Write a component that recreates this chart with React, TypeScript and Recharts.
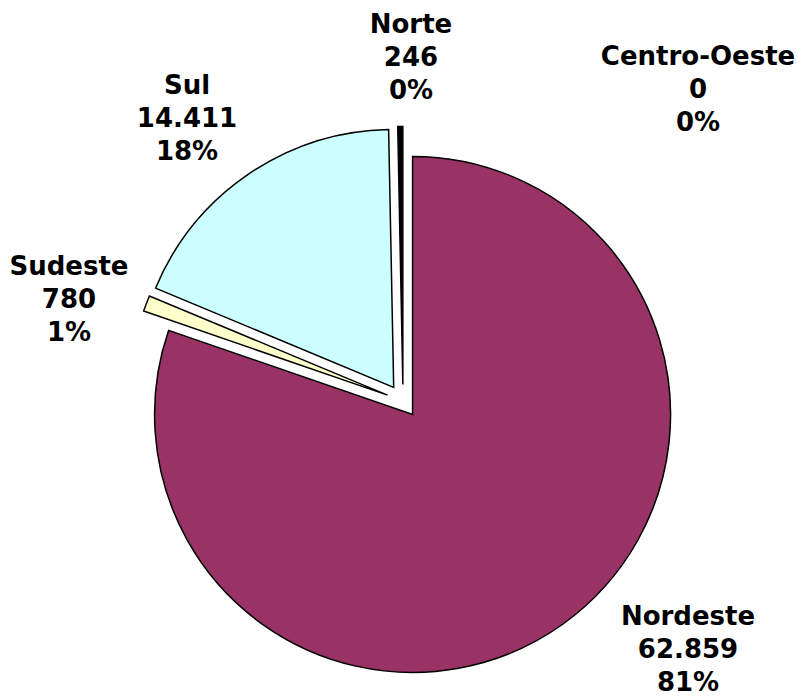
import React from "react";
import { PieChart, Pie, Cell } from "recharts";

const regions = ["Nordeste", "Sudeste", "Sul", "Norte", "Centro-Oeste"];
const values = [62859, 780, 14411, 246, 0];
const valueLabels = ["62.859", "780", "14.411", "246", "0"];
const percentLabels = ["81%", "1%", "18%", "0%", "0%"];
const colors = ["#993366", "#FFFFCC", "#CCFFFF", "#000000", "#660066"];

const data = regions.map((name, i) => ({ name, value: values[i] }));

// layout
const W = 798;
const H = 698;
const CX = 403;
const CY = 401;
const R = 258;
const EXPLODE = 16.5;
const START = 90;
const END = -270;
const FONT_SIZE = 26;
const LINE_H = 33;
// label anchor offsets (first line baseline) relative to pie centre
const labelOffsets: [number, number][] = [
  [285, 224],
  [-334, -126],
  [-216, -307],
  [8, -368],
  [295, -336],
];

const total = values.reduce((a, b) => a + b, 0);
const midAngles = values.map((v, i) => {
  const before = values.slice(0, i).reduce((a, b) => a + b, 0);
  const f = (before + v / 2) / total;
  return START + (END - START) * f;
});

const renderLabel = (props: any) => {
  const i = props.index;
  const x = CX + labelOffsets[i][0];
  const y = CY + labelOffsets[i][1];
  return (
    <text
      key={`lbl-${i}`}
      x={x}
      y={y}
      textAnchor="middle"
      fontFamily="'DejaVu Sans', Verdana, sans-serif"
      fontWeight="bold"
      fontSize={FONT_SIZE}
      fill="#000"
    >
      <tspan x={x} dy={0}>{regions[i]}</tspan>
      <tspan x={x} dy={LINE_H}>{valueLabels[i]}</tspan>
      <tspan x={x} dy={LINE_H}>{percentLabels[i]}</tspan>
    </text>
  );
};

export default function App() {
  return (
    <div style={{ position: "absolute", left: 0, top: 0, width: W, height: H, background: "#fff" }}>
      <PieChart width={W} height={H} margin={{ top: 0, right: 0, bottom: 0, left: 0 }}>
        {values.map((v, si) => {
          if (v === 0) return null;
          const a = (midAngles[si] * Math.PI) / 180;
          const cx = CX + EXPLODE * Math.cos(a);
          const cy = CY - EXPLODE * Math.sin(a);
          return (
            <Pie
              key={`pie-${si}`}
              data={data}
              dataKey="value"
              nameKey="name"
              cx={cx}
              cy={cy}
              outerRadius={R}
              innerRadius={0}
              startAngle={START}
              endAngle={END}
              isAnimationActive={false}
              label={false}
              labelLine={false}
            >
              {data.map((d, ci) => (
                <Cell
                  key={`c-${ci}`}
                  fill={ci === si ? colors[ci] : "none"}
                  stroke={ci === si ? "#000" : "none"}
                  strokeWidth={1.5}
                />
              ))}
            </Pie>
          );
        })}
        <Pie
          data={data}
          dataKey="value"
          nameKey="name"
          cx={CX}
          cy={CY}
          outerRadius={R}
          startAngle={START}
          endAngle={END}
          isAnimationActive={false}
          label={renderLabel}
          labelLine={false}
        >
          {data.map((d, ci) => (
            <Cell key={`t-${ci}`} fill="none" stroke="none" />
          ))}
        </Pie>
      </PieChart>
    </div>
  );
}
